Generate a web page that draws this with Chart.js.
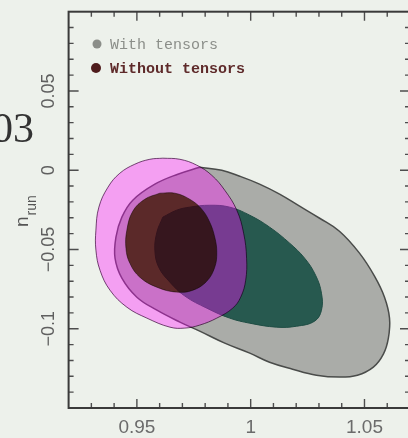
<!DOCTYPE html>
<html>
<head>
<meta charset="utf-8">
<script src="https://cdn.jsdelivr.net/npm/chart.js@4.4.1/dist/chart.umd.min.js"></script>
<style>
  html, body { margin: 0; padding: 0; background: #edf1eb; overflow: hidden; }
  #wrap { position: absolute; left: 0; top: 0; width: 420px; height: 438px; }
</style>
</head>
<body>
<div id="wrap"><canvas id="c" width="420" height="438"></canvas></div>
<script>
// Confidence contours in the (n_s, n_run) plane, traced as closed outlines.
// "With tensors": outer (2 sigma) and inner (1 sigma) regions.
const withTensorsOuterX = [0.9776, 0.9873, 0.9952, 1.0039, 1.0127, 1.0215, 1.0303, 1.0390, 1.0478, 1.0544, 1.0588, 1.0610, 1.0605, 1.0583, 1.0539, 1.0469, 1.0390, 1.0289, 1.0184, 1.0083, 0.9996, 0.9886, 0.9776, 0.9689, 0.9588, 0.9500, 0.9434, 0.9404, 0.9408, 0.9434, 0.9482, 0.9579, 0.9680];
const withTensorsOuterY = [0.0019, 0.0000, -0.0038, -0.0088, -0.0151, -0.0227, -0.0303, -0.0385, -0.0523, -0.0668, -0.0801, -0.0933, -0.1059, -0.1160, -0.1242, -0.1293, -0.1305, -0.1293, -0.1255, -0.1211, -0.1154, -0.1091, -0.1015, -0.0958, -0.0883, -0.0801, -0.0681, -0.0555, -0.0422, -0.0296, -0.0189, -0.0088, -0.0025];

const withTensorsInnerX = [0.9614, 0.9675, 0.9732, 0.9820, 0.9908, 0.9996, 1.0083, 1.0171, 1.0237, 1.0285, 1.0311, 1.0311, 1.0281, 1.0202, 1.0114, 0.9996, 0.9908, 0.9807, 0.9711, 0.9645, 0.9596, 0.9579, 0.9588];
const withTensorsInnerY = [-0.0296, -0.0252, -0.0233, -0.0221, -0.0233, -0.0284, -0.0359, -0.0460, -0.0555, -0.0662, -0.0776, -0.0883, -0.0952, -0.0984, -0.0990, -0.0965, -0.0933, -0.0870, -0.0794, -0.0706, -0.0612, -0.0504, -0.0391];

// "Without tensors": outer (2 sigma) and inner (1 sigma) regions.
const noTensorsOuterX = [0.9614, 0.9689, 0.9763, 0.9829, 0.9886, 0.9939, 0.9969, 0.9982, 0.9978, 0.9956, 0.9921, 0.9851, 0.9776, 0.9711, 0.9645, 0.9544, 0.9456, 0.9382, 0.9338, 0.9320, 0.9320, 0.9333, 0.9373, 0.9425, 0.9491, 0.9557];
const noTensorsOuterY = [0.0076, 0.0069, 0.0032, -0.0032, -0.0126, -0.0252, -0.0397, -0.0555, -0.0694, -0.0801, -0.0870, -0.0933, -0.0977, -0.0996, -0.0990, -0.0933, -0.0864, -0.0757, -0.0631, -0.0504, -0.0378, -0.0233, -0.0107, -0.0019, 0.0038, 0.0069];

const noTensorsInnerX = [0.9601, 0.9667, 0.9732, 0.9785, 0.9820, 0.9842, 0.9851, 0.9842, 0.9807, 0.9746, 0.9675, 0.9588, 0.9513, 0.9469, 0.9452, 0.9456, 0.9482, 0.9535];
const noTensorsInnerY = [-0.0145, -0.0145, -0.0183, -0.0246, -0.0328, -0.0422, -0.0517, -0.0612, -0.0700, -0.0757, -0.0769, -0.0738, -0.0675, -0.0586, -0.0492, -0.0378, -0.0259, -0.0183];

const xTickLabels = [0.95, 1, 1.05];
const yTickLabels = [0.05, 0, -0.05, -0.1];
const legendLabels = ['With tensors', 'Without tensors'];

const BG = '#edf1eb';

function closedOutline(xs, ys) {
  const pts = xs.map((x, i) => ({ x: x, y: ys[i] }));
  pts.push({ x: xs[0], y: ys[0] });
  return pts;
}
function fmt(v) {
  return String(v).replace('-', '\u2212');
}

function region(xs, ys, fill, stroke, width, blend) {
  return {
    data: closedOutline(xs, ys),
    showLine: true,
    fill: 'shape',
    backgroundColor: fill,
    borderColor: stroke,
    borderWidth: width,
    tension: 0.4,
    pointRadius: 0,
    pointHoverRadius: 0,
    blend: blend
  };
}

// The translucent "without tensors" regions tint what lies beneath them:
// each dataset carries a canvas compositing mode applied while it is painted.
const blending = {
  id: 'blending',
  beforeDatasetsDraw(chart) {
    const ds = chart.data.datasets;
    chart.ctx.globalCompositeOperation = ds[ds.length - 1].blend;
  },
  afterDatasetDraw(chart, args) {
    const ds = chart.data.datasets;
    const next = args.index - 1;
    chart.ctx.globalCompositeOperation = next >= 0 ? ds[next].blend : 'source-over';
  },
  afterDatasetsDraw(chart) {
    chart.ctx.globalCompositeOperation = 'source-over';
  }
};

// Frame with inward tick marks on all four sides, tick labels, slide text, legend and axis title
const decorations = {
  id: 'decorations',
  beforeDraw(chart) {
    const ctx = chart.ctx;
    ctx.save();
    ctx.fillStyle = BG;
    ctx.fillRect(0, 0, chart.width, chart.height);
    ctx.restore();
  },
  afterDatasetsDraw(chart) {
    const ctx = chart.ctx, xs = chart.scales.x, ys = chart.scales.y, a = chart.chartArea;
    ctx.save();
    ctx.globalCompositeOperation = 'source-over';
    ctx.strokeStyle = '#4d4d4d';
    ctx.lineWidth = 1.4;
    ctx.beginPath();
    for (let k = 93; k <= 106; k++) {
      const px = xs.getPixelForValue(k / 100);
      const len = k % 5 === 0 ? 9 : 5;
      ctx.moveTo(px, a.bottom); ctx.lineTo(px, a.bottom - len);
      ctx.moveTo(px, a.top); ctx.lineTo(px, a.top + len);
    }
    for (let k = -14; k <= 9; k++) {
      const py = ys.getPixelForValue(k / 100);
      const len = k % 5 === 0 ? 10 : 5;
      ctx.moveTo(a.left, py); ctx.lineTo(a.left + len, py);
      ctx.moveTo(a.right, py); ctx.lineTo(a.right - len, py);
    }
    ctx.stroke();
    ctx.strokeStyle = '#3a3a3a';
    ctx.lineWidth = 2;
    ctx.strokeRect(a.left, a.top, a.right - a.left, a.bottom - a.top);

    // y tick labels, rotated to read upward
    ctx.fillStyle = '#5f5f5f';
    ctx.font = '18px "Liberation Sans"';
    ctx.textAlign = 'center';
    ctx.textBaseline = 'middle';
    yTickLabels.forEach(v => {
      ctx.save();
      ctx.translate(49, ys.getPixelForValue(v));
      ctx.rotate(-Math.PI / 2);
      ctx.fillText(fmt(v), 0, 0);
      ctx.restore();
    });
    ctx.restore();
  },
  afterDraw(chart) {
    const ctx = chart.ctx;
    ctx.save();
    // slide heading fragment on the left
    ctx.fillStyle = '#333333';
    ctx.font = '42px "Liberation Serif"';
    ctx.textAlign = 'right';
    ctx.textBaseline = 'alphabetic';
    ctx.fillText('03', 34, 142);

    // legend
    ctx.textAlign = 'left';
    ctx.textBaseline = 'middle';
    ctx.font = '15px "Liberation Mono"';
    ctx.fillStyle = '#8b8e89';
    ctx.beginPath(); ctx.arc(97, 44, 4.5, 0, Math.PI * 2); ctx.fill();
    ctx.fillText(legendLabels[0], 110, 45);
    ctx.fillStyle = '#4f1c1c';
    ctx.beginPath(); ctx.arc(96, 68, 5, 0, Math.PI * 2); ctx.fill();
    ctx.font = 'bold 15px "Liberation Mono"';
    ctx.fillStyle = '#5e2a2a';
    ctx.fillText(legendLabels[1], 110, 69);

    // y-axis title n_run, reading upward
    ctx.translate(28, 227);
    ctx.rotate(-Math.PI / 2);
    ctx.fillStyle = '#555555';
    ctx.textBaseline = 'alphabetic';
    ctx.font = '19px "Liberation Sans"';
    ctx.fillText('n', 0, 0);
    const w = ctx.measureText('n').width;
    ctx.font = '14px "Liberation Sans"';
    ctx.fillText('run', w + 1, 8);
    ctx.restore();
  }
};

new Chart(document.getElementById('c'), {
  type: 'scatter',
  data: {
    datasets: [
      // without tensors, 1 sigma
      region(noTensorsInnerX, noTensorsInnerY, 'rgb(115,92,52)', 'rgba(60,40,30,0.6)', 1, 'multiply'),
      // without tensors, 2 sigma (two tint passes)
      region(noTensorsOuterX, noTensorsOuterY, 'rgb(255,168,255)', 'rgb(120,80,120)', 1, 'multiply'),
      region(noTensorsOuterX, noTensorsOuterY, 'rgb(95,0,95)', 'rgba(0,0,0,0)', 0, 'screen'),
      // with tensors, 1 sigma and 2 sigma
      region(withTensorsInnerX, withTensorsInnerY, '#27594f', '#1f4d44', 1, 'source-over'),
      region(withTensorsOuterX, withTensorsOuterY, '#aaaca8', '#4a4c4a', 1.5, 'source-over')
    ]
  },
  plugins: [blending, decorations],
  options: {
    responsive: false,
    devicePixelRatio: 1,
    animation: false,
    events: [],
    layout: { padding: { top: 11.7, right: 10, left: 0, bottom: 0 } },
    plugins: { legend: { display: false }, tooltip: { enabled: false } },
    scales: {
      x: {
        type: 'linear',
        position: 'bottom',
        min: 0.92,
        max: 1.07,
        afterBuildTicks: s => { s.ticks = xTickLabels.map(v => ({ value: v })); },
        afterFit: s => { s.height = 30; },
        grid: { display: false },
        border: { display: false },
        ticks: {
          autoSkip: false,
          maxRotation: 0,
          padding: 0,
          color: '#6b6b6b',
          font: { family: 'Liberation Sans', size: 19 },
          callback: v => fmt(v)
        }
      },
      y: {
        type: 'linear',
        position: 'left',
        min: -0.15,
        max: 0.1,
        afterBuildTicks: s => { s.ticks = yTickLabels.map(v => ({ value: v })); },
        afterFit: s => { s.width = 68.6; },
        grid: { display: false },
        border: { display: false },
        ticks: { display: false }
      }
    }
  }
});
</script>
</body>
</html>
